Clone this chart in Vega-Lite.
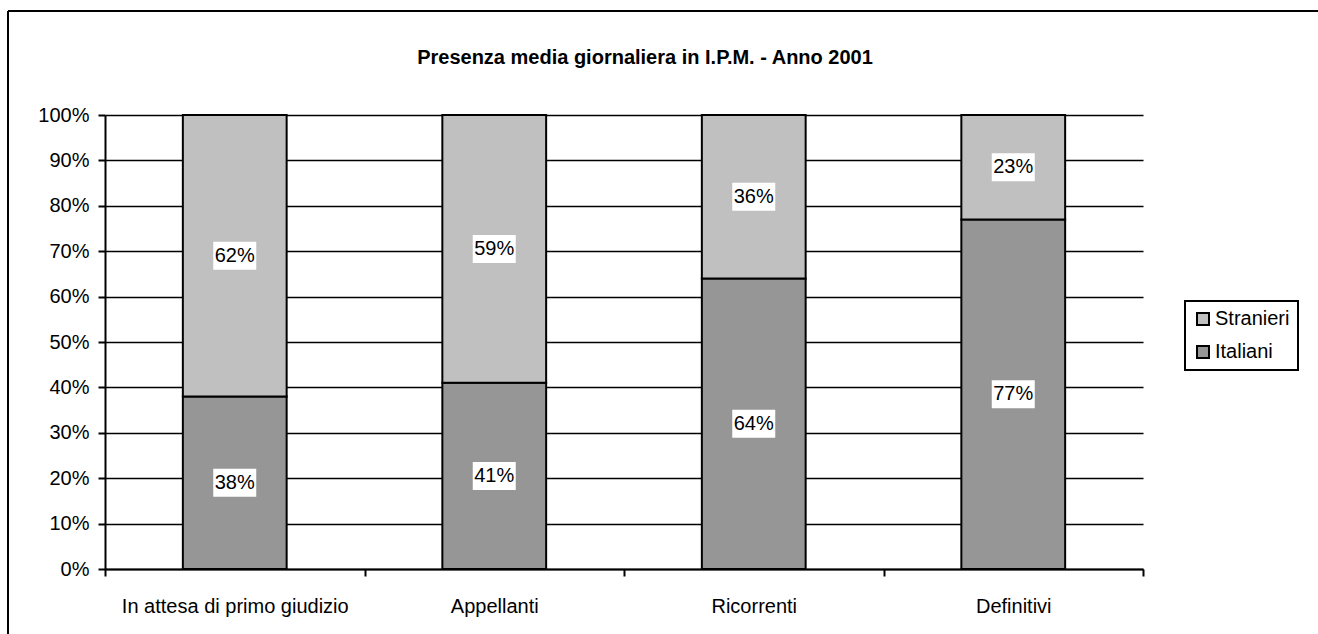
{
  "$schema": "https://vega.github.io/schema/vega-lite/v6.json",
  "width": 1310,
  "height": 623,
  "autosize": "none",
  "padding": {"left": 8, "top": 11, "right": 0, "bottom": 0},
  "background": "white",
  "title": {
    "text": "Presenza media giornaliera in I.P.M. - Anno 2001",
    "fontSize": 20,
    "fontWeight": "bold",
    "color": "black",
    "anchor": "middle",
    "frame": "group",
    "baseline": "alphabetic",
    "offset": -73,
    "dx": -18
  },
  "data": {
    "values": [
      {"cat": "In attesa di primo giudizio", "group": "Italiani", "value": 0.38},
      {"cat": "In attesa di primo giudizio", "group": "Stranieri", "value": 0.62},
      {"cat": "Appellanti", "group": "Italiani", "value": 0.41},
      {"cat": "Appellanti", "group": "Stranieri", "value": 0.59},
      {"cat": "Ricorrenti", "group": "Italiani", "value": 0.64},
      {"cat": "Ricorrenti", "group": "Stranieri", "value": 0.36},
      {"cat": "Definitivi", "group": "Italiani", "value": 0.77},
      {"cat": "Definitivi", "group": "Stranieri", "value": 0.23}
    ]
  },
  "encoding": {
    "x": {
      "field": "cat",
      "type": "nominal",
      "sort": ["In attesa di primo giudizio", "Appellanti", "Ricorrenti", "Definitivi"],
      "scale": {"range": [97, 1135], "paddingInner": 0, "paddingOuter": 0},
      "axis": {
        "title": null,
        "orient": "bottom",
        "offset": -65,
        "tickBand": "extent",
        "tickSize": 7,
        "tickWidth": 2,
        "tickColor": "black",
        "domainColor": "black",
        "domainWidth": 2,
        "labelAngle": 0,
        "labelFontSize": 20,
        "labelColor": "black",
        "labelPadding": 20,
        "labelLimit": 0,
        "grid": false
      }
    }
  },
  "layer": [
    {
      "mark": {"type": "bar", "stroke": "black", "strokeWidth": 2, "width": {"band": 0.4}, "opacity": 1},
      "encoding": {
        "y": {
          "field": "value",
          "type": "quantitative",
          "stack": "zero",
          "scale": {"domain": [0, 1], "range": [558, 104], "nice": false},
          "axis": {
            "title": null,
            "offset": -97,
            "values": [0, 0.1, 0.2, 0.3, 0.4, 0.5, 0.6, 0.7, 0.8, 0.9, 1],
            "format": ".0%",
            "tickSize": 7,
            "tickWidth": 2,
            "tickColor": "black",
            "domainColor": "black",
            "domainWidth": 2,
            "grid": true,
            "gridColor": "black",
            "gridWidth": 1.5,
            "gridOpacity": 1,
            "labelFontSize": 20,
            "labelColor": "black",
            "labelPadding": 9
          }
        },
        "color": {
          "field": "group",
          "type": "nominal",
          "scale": {"domain": ["Stranieri", "Italiani"], "range": ["#C0C0C0", "#969696"]},
          "legend": {
            "title": null,
            "orient": "none",
            "legendX": 1177,
            "legendY": 290,
            "strokeColor": "black",
            "padding": 8,
            "symbolType": "square",
            "symbolSize": 144,
            "symbolStrokeColor": "black",
            "symbolStrokeWidth": 2,
            "symbolOpacity": 1,
            "labelFontSize": 20,
            "labelColor": "black",
            "labelOffset": 2,
            "rowPadding": 13,
            "encode": {"legend": {"update": {"strokeWidth": {"value": 2}}}}
          }
        },
        "order": {"field": "group", "sort": "ascending"}
      }
    },
    {
      "mark": {"type": "point", "shape": "M-1,-0.651H1V0.651H-1Z", "size": 1849, "filled": true, "fill": "white", "opacity": 1, "strokeWidth": 0},
      "encoding": {
        "y": {"field": "value", "type": "quantitative", "stack": "zero", "bandPosition": 0.5},
        "detail": {"field": "group"},
        "order": {"field": "group", "sort": "ascending"}
      }
    },
    {
      "mark": {"type": "text", "fontSize": 20, "color": "black", "align": "center", "baseline": "middle"},
      "encoding": {
        "y": {"field": "value", "type": "quantitative", "stack": "zero", "bandPosition": 0.5},
        "text": {"field": "value", "type": "quantitative", "format": ".0%"},
        "detail": {"field": "group"},
        "order": {"field": "group", "sort": "ascending"}
      }
    }
  ],
  "config": {
    "font": "Liberation Sans",
    "view": {"stroke": "black", "strokeWidth": 2, "strokeDash": [1310, 1933, 623, 0]}
  }
}
